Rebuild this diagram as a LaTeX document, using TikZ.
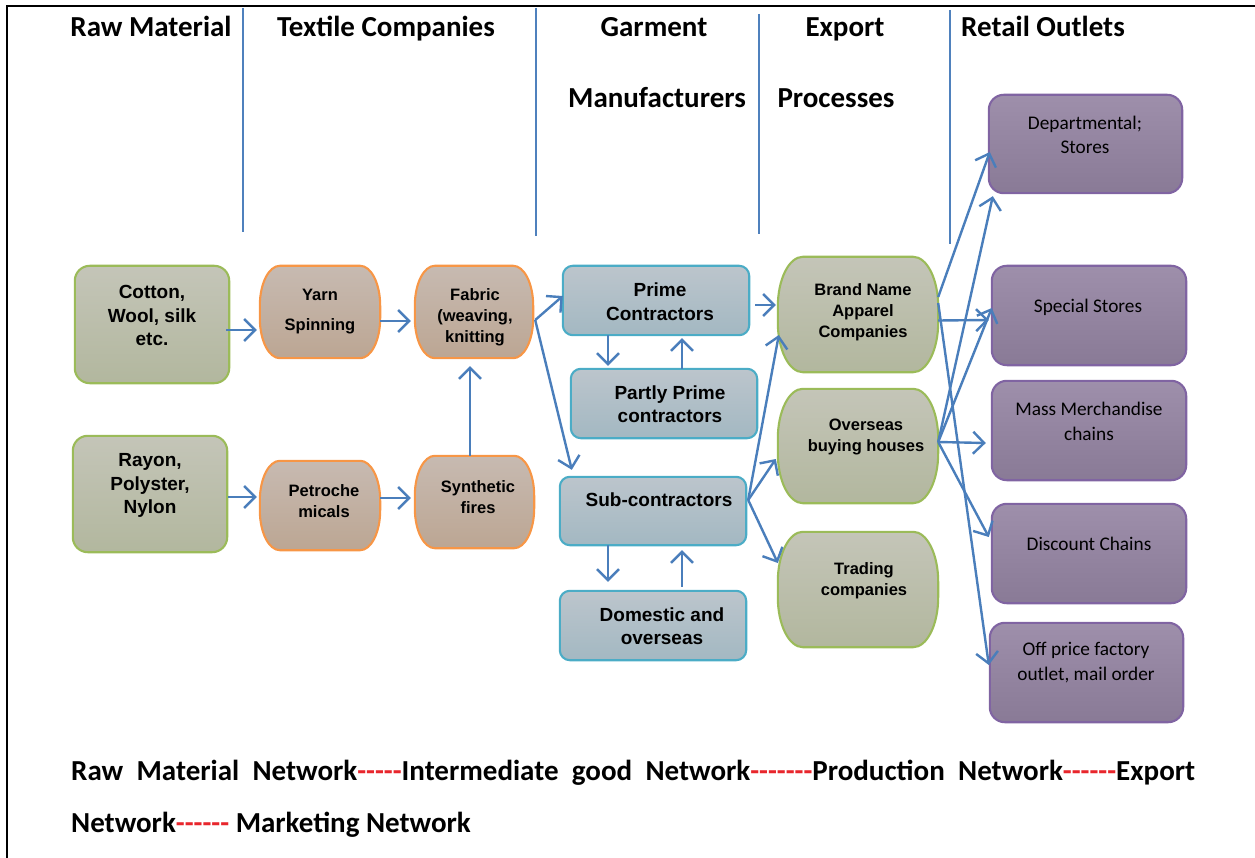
\documentclass[tikz,border=0pt]{standalone}
\usepackage{fontspec}
\setmainfont{Liberation Sans}
\newfontfamily\calfnt{Carlito}
\usetikzlibrary{arrows.meta,calc}
\pgfdeclarelayer{bg}
\pgfsetlayers{bg,main}
\definecolor{linkblue}{HTML}{4A7EBB}
\definecolor{sepblue}{HTML}{4F81BD}
\definecolor{grnB}{HTML}{9BBB59}
\definecolor{grnT}{HTML}{C4C5B8}
\definecolor{grnD}{HTML}{B2B79E}
\definecolor{orgB}{HTML}{F79646}
\definecolor{orgT}{HTML}{C7BAB1}
\definecolor{orgD}{HTML}{BCA693}
\definecolor{bluB}{HTML}{4BACC6}
\definecolor{bluT}{HTML}{BCC5CC}
\definecolor{bluD}{HTML}{A3B8C2}
\definecolor{purB}{HTML}{8064A2}
\definecolor{purT}{HTML}{9E8FAB}
\definecolor{purD}{HTML}{897A96}
\definecolor{dashred}{HTML}{E8262C}
\newcommand\rrp[2]{(\x1+#1,\y1) -- (\x2-#1,\y1) arc[start angle=90,end angle=0,x radius=#1,y radius=#2] -- (\x2,\y2+#2) arc[start angle=0,end angle=-90,x radius=#1,y radius=#2] -- (\x1+#1,\y2) arc[start angle=270,end angle=180,x radius=#1,y radius=#2] -- (\x1,\y1-#2) arc[start angle=180,end angle=90,x radius=#1,y radius=#2] -- cycle}
\newcommand\shapebox[6]{%
  \path[fill=black!28,shift={(1.5pt,-3pt)}] let \p1=(#1.north west),\p2=(#1.south east) in \rrp{#2}{#3};
  \path[top color=#4,bottom color=#5,draw=#6,line width=2.1pt] let \p1=(#1.north west),\p2=(#1.south east) in \rrp{#2}{#3};
}
\newcommand\rd[1]{\textcolor{dashred}{#1}}
\begin{document}
\begin{tikzpicture}[x=1pt,y=-1pt,
  bx/.style 2 args={inner sep=0pt,minimum width=#1,minimum height=#2},
  arr/.style={draw=linkblue,line width=2.4pt,-{Straight Barb[length=11pt,width=22pt]}},
  sep/.style={draw=sepblue,line width=1.4pt},
  hdr/.style={font=\calfnt\bfseries\fontsize{29}{33}\selectfont,anchor=base,inner sep=0pt},
  tA/.style={font=\bfseries\fontsize{19}{23.5}\selectfont,align=center,inner sep=0pt},
  tB/.style={font=\bfseries\fontsize{16.5}{21}\selectfont,align=center,inner sep=0pt},
  tC/.style={font=\calfnt\fontsize{19.3}{24.5}\selectfont,align=center,inner sep=0pt},
  btm/.style={font=\calfnt\bfseries\fontsize{29}{33}\selectfont,anchor=base west,inner sep=0pt}
]
\useasboundingbox (0,0) rectangle (1255,858);
% frame
\draw[line width=2.8pt] (7,858) -- (7,6) -- (1255,6);
% separators
\draw[sep] (243,8) -- (243,232);
\draw[sep] (536,8) -- (536,236);
\draw[sep] (759,14) -- (759,234);
\draw[sep] (950,10) -- (950,244);
% headers
\node[hdr] (h1) at (151,37) {Raw Material};
\node[hdr] (h2) at (386,37) {Textile Companies};
\node[hdr] (h3) at (654,37) {Garment};
\node[hdr] (h3b) at (657,108) {Manufacturers};
\node[hdr] (h4) at (845,37) {Export};
\node[hdr] (h4b) at (836,108) {Processes};
\node[hdr] (h5) at (1043,37) {Retail Outlets};
% boxes
\node[bx={154pt}{117pt}] (cotton) at (152,324.5) {};
\node[bx={154pt}{116pt}] (rayon) at (150,494) {};
\node[bx={120pt}{92pt}] (yarn) at (320,312) {};
\node[bx={118pt}{92pt}] (fabric) at (474,312) {};
\node[bx={120pt}{89pt}] (petro) at (320,505.5) {};
\node[bx={119pt}{92pt}] (synth) at (474.5,502) {};
\node[bx={186pt}{69pt}] (prime) at (656,300.5) {};
\node[bx={186pt}{69pt}] (partly) at (664,403.5) {};
\node[bx={186pt}{68pt}] (sub) at (653,511) {};
\node[bx={186pt}{69pt}] (domestic) at (653,625.5) {};
\node[bx={160pt}{115pt}] (brand) at (858,314.5) {};
\node[bx={160pt}{114pt}] (overseas) at (858,446) {};
\node[bx={160pt}{115pt}] (trading) at (858,589.5) {};
\node[bx={193pt}{98pt}] (dept) at (1085.5,144) {};
\node[bx={194pt}{99pt}] (special) at (1089,315.5) {};
\node[bx={194pt}{99pt}] (mass) at (1089,430.5) {};
\node[bx={194pt}{99pt}] (discount) at (1089,553.5) {};
\node[bx={193pt}{99pt}] (offprice) at (1086.5,672.5) {};
\begin{pgfonlayer}{bg}
\shapebox{cotton}{15pt}{15pt}{grnT}{grnD}{grnB}
\shapebox{rayon}{15pt}{15pt}{grnT}{grnD}{grnB}
\shapebox{yarn}{20pt}{40pt}{orgT}{orgD}{orgB}
\shapebox{fabric}{20pt}{40pt}{orgT}{orgD}{orgB}
\shapebox{petro}{20pt}{40pt}{orgT}{orgD}{orgB}
\shapebox{synth}{20pt}{40pt}{orgT}{orgD}{orgB}
\shapebox{prime}{10pt}{10pt}{bluT}{bluD}{bluB}
\shapebox{partly}{10pt}{10pt}{bluT}{bluD}{bluB}
\shapebox{sub}{10pt}{10pt}{bluT}{bluD}{bluB}
\shapebox{domestic}{10pt}{10pt}{bluT}{bluD}{bluB}
\shapebox{brand}{25pt}{50pt}{grnT}{grnD}{grnB}
\shapebox{overseas}{25pt}{50pt}{grnT}{grnD}{grnB}
\shapebox{trading}{25pt}{50pt}{grnT}{grnD}{grnB}
\shapebox{dept}{15pt}{15pt}{purT}{purD}{purB}
\shapebox{special}{15pt}{15pt}{purT}{purD}{purB}
\shapebox{mass}{15pt}{15pt}{purT}{purD}{purB}
\shapebox{discount}{15pt}{15pt}{purT}{purD}{purB}
\shapebox{offprice}{15pt}{15pt}{purT}{purD}{purB}
\end{pgfonlayer}
% texts
\node[tA] (cotton-t) at (152,315.5) {Cotton,\\Wool, silk\\etc.};
\node[tA] (rayon-t) at (150,485.5) {Rayon,\\Polyster,\\Nylon};
\node[tB] (yarn-t) at (320,311.5) {Yarn\\[9pt]Spinning};
\node[tB] (fabric-t) at (475,317.5) {Fabric\\(weaving,\\knitting};
\node[tB] (petro-t) at (324,501.5) {Petroche\\micals};
\node[tB] (synth-t) at (478,497.5) {Synthetic\\fires};
\node[tA] (prime-t) at (660,301.5) {Prime\\Contractors};
\node[tA] (partly-t) at (670,404) {Partly Prime\\contractors};
\node[tA] (sub-t) at (659,500) {Sub-contractors};
\node[tA] (domestic-t) at (662,626) {Domestic and\\overseas};
\node[tB] (brand-t) at (863,312) {Brand Name\\Apparel\\Companies};
\node[tB] (overseas-t) at (866,436.5) {Overseas\\buying houses};
\node[tB] (trading-t) at (864,580.5) {Trading\\companies};
\node[tC] (dept-t) at (1085,135) {Departmental;\\Stores};
\node[tC] (special-t) at (1088,307) {Special Stores};
\node[tC] (mass-t) at (1089,421.5) {Mass Merchandise\\chains};
\node[tC] (discount-t) at (1089,544) {Discount Chains};
\node[tC] (offprice-t) at (1086,662.5) {Off price factory\\outlet, mail order};
% connectors
\draw[arr] ($(cotton.east)+(-3,5.5)$) -- ($(yarn.west)+(-3,18)$);
\draw[arr] ($(rayon.east)+(1,3)$) -- ($(petro.west)+(-3,-8.5)$);
\draw[arr] ($(yarn.east)+(0,9)$) -- ($(fabric.west)+(-4,9)$);
\draw[arr] ($(petro.east)+(0,-7.5)$) -- ($(synth.west)+(-4,-4)$);
\draw[arr] ($(synth.north)+(-4.5,0)$) -- ($(fabric.south)+(-4,8)$);
\draw[arr] ($(fabric.east)+(2,8)$) -- ($(prime.west)+(0,-4.5)$);
\draw[arr] ($(fabric.east)+(2,8)$) -- ($(sub.north west)+(12,-7)$);
\draw[arr] ($(prime.south)+(-48,0)$) -- ($(partly.north)+(-56,-3)$);
\draw[arr] ($(partly.north)+(18,0)$) -- ($(prime.south)+(26,3)$);
\draw[arr] ($(sub.south)+(-45,0)$) -- ($(domestic.north)+(-45,-9)$);
\draw[arr] ($(domestic.north)+(29,-4)$) -- ($(sub.south)+(29,5)$);
\draw[arr] ($(prime.east)+(6,4.5)$) -- ($(brand.west)+(-2,-9.5)$);
\draw[arr] ($(sub.east)+(2,-11)$) -- ($(brand.west)+(1,20.5)$);
\draw[arr] ($(sub.east)+(2,-11)$) -- ($(overseas.west)+(-2,13)$);
\draw[arr] ($(sub.east)+(2,-11)$) -- ($(trading.west)+(0,-26.5)$);
\draw[arr] ($(brand.east)+(0,-17.5)$) -- ($(dept.west)+(1,8)$);
\draw[arr] ($(brand.east)+(0,6)$) -- ($(special.west)+(-3,4.5)$);
\draw[arr] ($(brand.east)+(0,-11.5)$) -- ($(offprice.west)+(-1,-7.5)$);
\draw[arr] ($(overseas.east)+(0,-4)$) -- ($(dept.south west)+(4,3)$);
\draw[arr] ($(overseas.east)+(0,-4)$) -- ($(special.west)+(0,-7.5)$);
\draw[arr] ($(overseas.east)+(0,-4)$) -- ($(mass.west)+(-6,12.5)$);
\draw[arr] ($(overseas.east)+(0,-4)$) -- ($(discount.west)+(-3,-16.5)$);
% bottom text
\node[btm] (net1) at (71,780) {\makebox[1124pt][s]{Raw Material Network\rd{-{}-{}-{}-{}-}Intermediate good Network\rd{-{}-{}-{}-{}-{}-{}-}Production Network\rd{-{}-{}-{}-{}-{}-}Export}};
\node[btm] (net2) at (71,832) {Network\rd{-{}-{}-{}-{}-{}-} Marketing Network};
\end{tikzpicture}
\end{document}
